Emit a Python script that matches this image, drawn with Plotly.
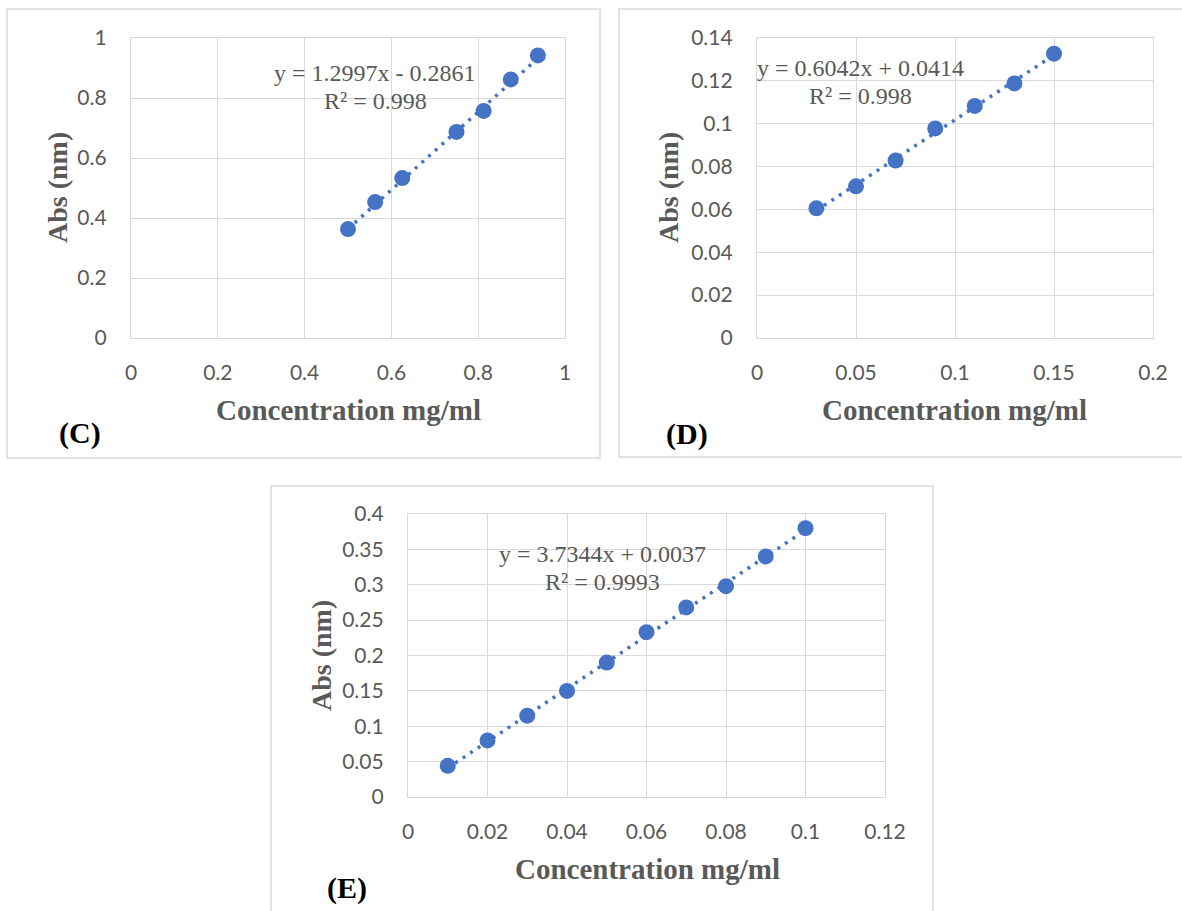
import plotly.graph_objects as go

W, H = 1182, 911

# ---------------- data ----------------
c_conc = [0.5, 0.5625, 0.625, 0.75, 0.8125, 0.875, 0.9375]
c_abs = [0.363, 0.453, 0.533, 0.687, 0.757, 0.862, 0.942]
c_slope, c_intercept = 1.2997, -0.2861
c_eq = ["y = 1.2997x - 0.2861", "R² = 0.998"]

d_conc = [0.03, 0.05, 0.07, 0.09, 0.11, 0.13, 0.15]
d_abs = [0.0605, 0.0708, 0.0828, 0.0978, 0.1083, 0.1188, 0.1327]
d_slope, d_intercept = 0.6042, 0.0414
d_eq = ["y = 0.6042x + 0.0414", "R² = 0.998"]

e_conc = [0.01, 0.02, 0.03, 0.04, 0.05, 0.06, 0.07, 0.08, 0.09, 0.10]
e_abs = [0.044, 0.080, 0.115, 0.150, 0.190, 0.233, 0.268, 0.298, 0.340, 0.380]
e_slope, e_intercept = 3.7344, 0.0037
e_eq = ["y = 3.7344x + 0.0037", "R² = 0.9993"]

c_xticks = [0, 0.2, 0.4, 0.6, 0.8, 1]
c_xtext = ["0", "0.2", "0.4", "0.6", "0.8", "1"]
c_yticks = [0, 0.2, 0.4, 0.6, 0.8, 1]
c_ytext = ["0", "0.2", "0.4", "0.6", "0.8", "1"]

d_xticks = [0, 0.05, 0.1, 0.15, 0.2]
d_xtext = ["0", "0.05", "0.1", "0.15", "0.2"]
d_yticks = [0, 0.02, 0.04, 0.06, 0.08, 0.1, 0.12, 0.14]
d_ytext = ["0", "0.02", "0.04", "0.06", "0.08", "0.1", "0.12", "0.14"]

e_xticks = [0, 0.02, 0.04, 0.06, 0.08, 0.1, 0.12]
e_xtext = ["0", "0.02", "0.04", "0.06", "0.08", "0.1", "0.12"]
e_yticks = [0, 0.05, 0.1, 0.15, 0.2, 0.25, 0.3, 0.35, 0.4]
e_ytext = ["0", "0.05", "0.1", "0.15", "0.2", "0.25", "0.3", "0.35", "0.4"]

x_title = "Concentration mg/ml"
y_title = "Abs (nm)"
panel_labels = ["(C)", "(D)", "(E)"]

# ---------------- style ----------------
BLUE = "#4472C4"
GRID = "#d9d9d9"
TXT = "#595959"
TICKFONT = dict(family="Lato, Carlito, sans-serif", size=21, color=TXT)
SERIF = "Liberation Serif, Times New Roman, serif"


def px(x):
    return x / W


def py(y):
    return 1 - y / H


fig = go.Figure()

panels = [
    dict(ax="", conc=c_conc, ab=c_abs, m=c_slope, b=c_intercept, eq=c_eq,
         plot=(131, 38, 565, 338), xr=[0, 1], yr=[0, 1],
         xt=(c_xticks, c_xtext), yt=(c_yticks, c_ytext),
         eqpos=(375, 73), xtpos=(348, 410), ytpos=(57, 188), lab=(80, 433),
         border=(7, 9, 600, 458)),
    dict(ax="2", conc=d_conc, ab=d_abs, m=d_slope, b=d_intercept, eq=d_eq,
         plot=(757, 38, 1153, 338), xr=[0, 0.2], yr=[0, 0.14],
         xt=(d_xticks, d_xtext), yt=(d_yticks, d_ytext),
         eqpos=(860, 68), xtpos=(954, 410), ytpos=(668, 188), lab=(687, 434),
         border=(619, 9, 1195, 457)),
    dict(ax="3", conc=e_conc, ab=e_abs, m=e_slope, b=e_intercept, eq=e_eq,
         plot=(408, 514, 885, 797), xr=[0, 0.12], yr=[0, 0.4],
         xt=(e_xticks, e_xtext), yt=(e_yticks, e_ytext),
         eqpos=(602, 554), xtpos=(647, 869), ytpos=(321, 656), lab=(347, 888),
         border=(271, 486, 933, 925)),
]

shapes = []
annotations = []

for i, p in enumerate(panels):
    xa = "x" + p["ax"]
    ya = "y" + p["ax"]
    # trendline over the data range
    x0, x1 = min(p["conc"]), max(p["conc"])
    fig.add_trace(go.Scatter(
        x=[x0, x1], y=[p["m"] * x0 + p["b"], p["m"] * x1 + p["b"]],
        mode="lines", line=dict(color=BLUE, width=3.5, dash="3px,6px"),
        xaxis=xa, yaxis=ya, showlegend=False, hoverinfo="skip"))
    fig.add_trace(go.Scatter(
        x=p["conc"], y=p["ab"], mode="markers",
        marker=dict(color=BLUE, size=16),
        xaxis=xa, yaxis=ya, showlegend=False))

    l, t, r, b = p["plot"]
    common = dict(showgrid=True, gridcolor=GRID, gridwidth=1.3, zeroline=False,
                  showline=True, linecolor=GRID, linewidth=1.3, mirror=True,
                  ticks="outside", tickcolor="rgba(0,0,0,0)",
                  tickfont=TICKFONT, fixedrange=True, automargin=False)
    xkey = "xaxis" + p["ax"]
    ykey = "yaxis" + p["ax"]
    fig.update_layout(**{
        xkey: dict(domain=[px(l), px(r)], range=p["xr"], anchor=ya,
                   tickvals=p["xt"][0], ticktext=p["xt"][1], ticklen=16,
                   **common),
        ykey: dict(domain=[py(b), py(t)], range=p["yr"], anchor=xa,
                   tickvals=p["yt"][0], ticktext=p["yt"][1], ticklen=19,
                   **common),
    })

    bl, bt, br, bb = p["border"]
    shapes.append(dict(type="rect", xref="paper", yref="paper",
                       x0=px(bl), x1=px(br), y0=py(bb), y1=py(bt),
                       line=dict(color=GRID, width=1.5), layer="below"))

    for k, line in enumerate(p["eq"]):
        annotations.append(dict(
            text=line, x=px(p["eqpos"][0]), y=py(p["eqpos"][1] + 28 * k),
            xref="paper", yref="paper", showarrow=False,
            xanchor="center", yanchor="middle",
            font=dict(family=SERIF, size=24, color=TXT)))
    annotations.append(dict(
        text="<b>" + x_title + "</b>", x=px(p["xtpos"][0]), y=py(p["xtpos"][1]),
        xref="paper", yref="paper", showarrow=False,
        xanchor="center", yanchor="middle",
        font=dict(family=SERIF, size=29, color=TXT)))
    annotations.append(dict(
        text="<b>" + y_title + "</b>", x=px(p["ytpos"][0]), y=py(p["ytpos"][1]),
        xref="paper", yref="paper", showarrow=False, textangle=-90,
        xanchor="center", yanchor="middle",
        font=dict(family=SERIF, size=28, color=TXT)))
    annotations.append(dict(
        text="<b>" + panel_labels[i] + "</b>", x=px(p["lab"][0]), y=py(p["lab"][1]),
        xref="paper", yref="paper", showarrow=False,
        xanchor="center", yanchor="middle",
        font=dict(family=SERIF, size=30, color="black")))

fig.update_layout(
    template="none",
    width=W, height=H, autosize=False,
    margin=dict(l=0, r=0, t=0, b=0, pad=0, autoexpand=False),
    paper_bgcolor="white", plot_bgcolor="white",
    shapes=shapes, annotations=annotations,
    showlegend=False,
)

fig.write_html("out.html", config={"displayModeBar": False})
